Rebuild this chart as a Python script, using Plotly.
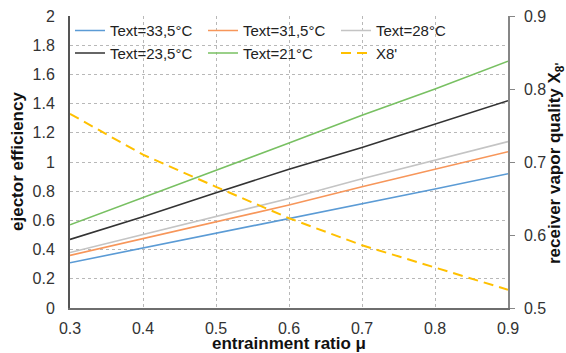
import plotly.graph_objects as go

mu = [0.3, 0.4, 0.5, 0.6, 0.7, 0.8, 0.9]
eff_335 = [0.31, 0.41, 0.51, 0.615, 0.71, 0.815, 0.92]
eff_315 = [0.36, 0.475, 0.595, 0.705, 0.83, 0.95, 1.07]
eff_28 = [0.38, 0.505, 0.63, 0.75, 0.885, 1.01, 1.14]
eff_235 = [0.47, 0.625, 0.79, 0.95, 1.10, 1.26, 1.42]
eff_21 = [0.57, 0.755, 0.94, 1.13, 1.32, 1.50, 1.69]
x8 = [0.766, 0.710, 0.666, 0.623, 0.586, 0.556, 0.525]

series = [
    ("Text=33,5°C", eff_335, "#5B9BD5"),
    ("Text=31,5°C", eff_315, "#F7965A"),
    ("Text=28°C", eff_28, "#C4C4C4"),
    ("Text=23,5°C", eff_235, "#333333"),
    ("Text=21°C", eff_21, "#78C062"),
]

fig = go.Figure()
for name, vals, col in series:
    fig.add_trace(go.Scatter(x=mu, y=vals, name=name, mode="lines",
                             line=dict(color=col, width=1.6)))
fig.add_trace(go.Scatter(x=mu, y=x8, name="X8'", mode="lines", yaxis="y2",
                         line=dict(color="#FFC000", width=2, dash="10px,6px")))

font_family = "Liberation Sans, Arial, sans-serif"
title_font = dict(family=font_family, size=17, color="#111111")
W, H, L, R, T, B = 566, 353, 70, 58, 16, 45
pw, ph = W - L - R, H - T - B

fig.update_layout(
    width=W, height=H,
    margin=dict(l=L, r=R, t=T, b=B, autoexpand=False),
    paper_bgcolor="white", plot_bgcolor="white",
    font=dict(family=font_family, size=16, color="#333333"),
    showlegend=True,
    legend=dict(orientation="h", x=0.0, xanchor="left", y=1.006, yanchor="top",
                bgcolor="rgba(0,0,0,0)", font=dict(size=15, color="#222222"),
                entrywidth=88, entrywidthmode="pixels", tracegroupgap=0),
    xaxis=dict(range=[0.3, 0.9], dtick=0.1, tick0=0.3, tickformat=".1f",
               showgrid=True, gridcolor="#B8B8B8", griddash="dot", gridwidth=1,
               showline=True, linecolor="#6E6E6E", linewidth=1.5,
               ticks="", ticklabelstandoff=5, zeroline=False, automargin=False),
    yaxis=dict(range=[0, 2], dtick=0.2, tickformat="~g",
               showgrid=True, gridcolor="#B8B8B8", griddash="dot", gridwidth=1,
               showline=True, linecolor="#555555", linewidth=2,
               ticks="", ticklabelstandoff=10, zeroline=False, automargin=False),
    yaxis2=dict(range=[0.5, 0.9], dtick=0.1, tickformat=".1f", overlaying="y", side="right",
                showgrid=False, showline=True, linecolor="#868686", linewidth=1.5,
                ticks="outside", ticklen=5, tickcolor="#868686", ticklabelstandoff=6,
                zeroline=False, automargin=False),
    annotations=[
        dict(text="<b>entrainment ratio μ</b>", x=0.5, y=(H - B - 343) / ph,
             xref="paper", yref="paper", xanchor="center", yanchor="middle",
             showarrow=False, font=title_font),
        dict(text="<b>ejector efficiency</b>", x=(17 - L) / pw, y=(H - B - 162) / ph,
             xref="paper", yref="paper", xanchor="center", yanchor="middle",
             showarrow=False, font=title_font, textangle=-90),
        dict(text="<b>receiver vapor quality X<sub>8'</sub></b>", x=(556 - L) / pw,
             y=(H - B - 164) / ph, xref="paper", yref="paper", xanchor="center",
             yanchor="middle", showarrow=False, font=title_font, textangle=-90),
    ],
)

fig.write_html("out.html")
